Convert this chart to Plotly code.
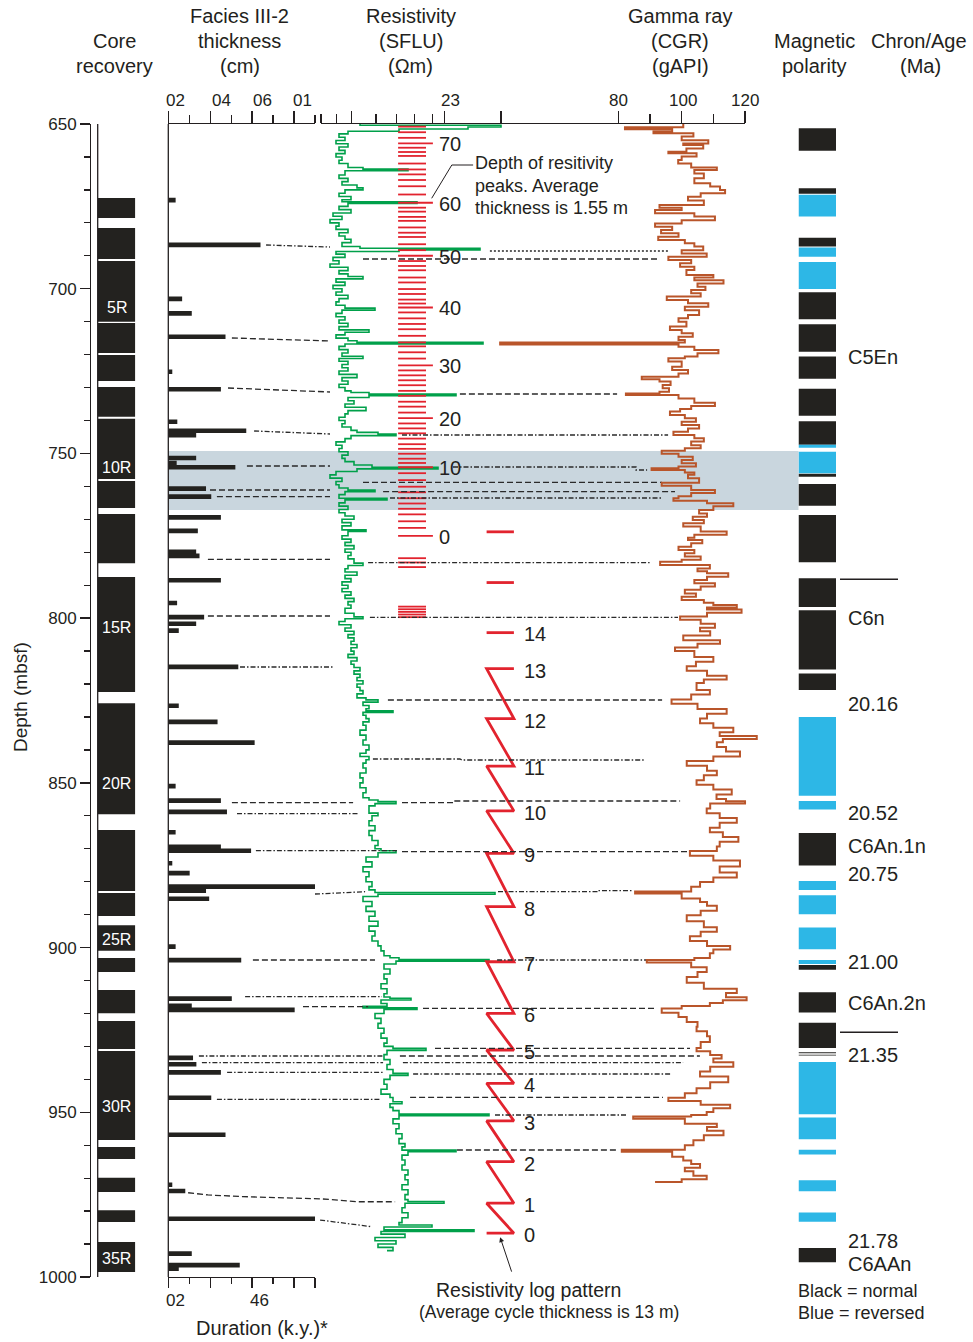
import plotly.graph_objects as go

W, H = 973, 1342
TXT = "#231f20"
BLACK = "#23221f"
BLUE = "#2db7e6"
GREEN = "#00a04a"
BROWN = "#b9552a"
RED = "#e2232e"
SHADE = "#c9d6de"
FONT = "Liberation Sans, Arial, Helvetica, sans-serif"

# ---------------- data ----------------
core_top = [672.5, 681.6, 691.6, 710.4, 720.1, 729.8, 739.5, 758.4, 768.4, 787.5, 825.8,
            864.3, 883.4, 893.2, 903.2, 912.9, 922.3, 931.4, 960.5, 969.9, 979.7, 989.4]
core_bot = [678.5, 691.0, 710.0, 719.5, 728.0, 738.9, 757.8, 766.6, 783.3, 822.4, 859.5,
            882.8, 890.4, 901.0, 907.4, 919.9, 930.8, 958.4, 964.2, 974.2, 983.3, 998.5]
core_names = ["5R", "10R", "15R", "20R", "25R", "30R", "35R"]
core_name_depth = [705.7, 754.3, 802.8, 850.3, 897.4, 948.1, 994.5]

facies_depth = [673.1, 686.7, 703.1, 707.5, 714.6, 725.2, 730.5, 740.4, 743.1, 744.5,
                751.4, 752.9, 754.2, 760.7, 763.1, 769.4, 773.5, 779.9, 781.1, 788.5,
                795.4, 799.7, 801.7, 803.8, 814.8, 826.6, 831.5, 837.8, 851.0, 855.4,
                858.8, 865.0, 869.4, 870.6, 874.4, 877.4, 881.5, 882.7, 885.2, 899.7,
                903.8, 915.5, 917.7, 918.9, 933.5, 935.4, 937.9, 945.6, 956.8, 972.0,
                973.9, 982.3, 992.9, 996.4, 997.5]
facies_cm = [0.35, 4.4, 0.66, 1.12, 2.73, 0.19, 2.51, 0.43, 3.72, 1.33,
             1.33, 0.4, 3.2, 1.8, 2.05, 2.51, 1.41, 1.33, 1.49, 2.51,
             0.42, 1.71, 1.33, 0.5, 3.34, 0.5, 2.35, 4.12, 0.35, 2.51,
             2.8, 0.35, 2.51, 3.95, 0.19, 1.02, 7.0, 1.8, 1.95, 0.35,
             3.48, 3.03, 1.12, 6.03, 1.18, 1.34, 2.51, 2.05, 2.73, 0.19,
             0.81, 7.0, 1.12, 3.41, 0.5]

res_log = [
    (650.0, 1.3), (650.4, 6.0), (650.9, 4.9), (651.5, 2.6), (652.2, 0.9), (653.0, 0.6),
    (654.0, 0.8), (655.0, 0.5), (656.0, 0.9), (657.0, 0.6), (658.0, 0.8), (659.0, 0.5),
    (660.0, 0.7), (661.0, 0.6), (662.0, 0.9), (663.2, 1.4), (663.7, 2.9), (664.2, 0.8),
    (665.5, 0.6), (666.5, 0.9), (667.5, 0.7), (668.5, 1.2), (669.4, 1.4), (670.0, 0.8),
    (671.0, 0.6), (672.0, 1.0), (673.0, 0.7), (673.6, 3.2), (674.1, 0.9), (675.0, 0.6),
    (676.0, 1.0), (677.0, 0.4), (678.0, 0.7), (679.0, 0.3), (680.0, 0.6), (681.0, 0.5),
    (682.0, 0.9), (683.0, 0.6), (684.0, 0.8), (685.0, 1.0), (686.0, 0.7), (687.2, 1.3),
    (687.7, 5.3), (688.2, 2.6), (688.7, 0.5), (689.5, 0.8), (690.5, 0.4), (691.5, 0.6),
    (692.5, 0.3), (693.5, 0.9), (694.5, 0.6), (695.5, 0.9), (696.3, 1.4), (697.0, 0.5),
    (698.0, 0.8), (699.0, 0.4), (700.0, 0.7), (701.0, 0.5), (702.0, 0.9), (703.0, 0.6),
    (704.0, 0.5), (705.0, 0.8), (705.9, 1.8), (706.5, 0.7), (707.5, 0.5), (708.5, 0.8),
    (709.5, 0.6), (710.5, 0.9), (711.5, 0.6), (712.5, 1.6), (713.2, 0.8), (714.0, 0.5),
    (715.0, 0.9), (715.8, 1.2), (716.3, 5.4), (716.8, 0.8), (717.5, 0.6), (718.5, 0.9),
    (719.5, 0.7), (720.5, 1.4), (721.2, 0.6), (722.0, 0.9), (723.0, 0.7), (724.0, 0.9),
    (725.0, 0.6), (726.0, 1.2), (727.0, 0.7), (728.0, 0.9), (729.0, 0.6), (730.0, 0.8),
    (731.0, 1.0), (731.5, 1.6), (732.0, 4.5), (732.5, 1.6), (733.0, 0.9), (734.0, 1.1),
    (735.0, 0.8), (736.0, 1.5), (737.0, 0.9), (738.0, 0.8), (739.0, 0.6), (740.0, 0.8),
    (741.0, 0.7), (742.0, 1.0), (743.0, 1.2), (743.6, 1.9), (744.1, 2.5), (744.6, 1.0),
    (745.5, 0.8), (746.5, 0.5), (747.5, 0.7), (748.5, 0.6), (749.5, 0.9), (750.5, 0.7),
    (751.5, 0.8), (752.5, 1.1), (753.5, 1.7), (754.2, 3.9), (754.7, 1.2), (755.5, 0.5),
    (756.5, 0.3), (757.5, 0.7), (758.5, 0.5), (759.5, 0.6), (760.5, 0.9), (761.1, 1.8),
    (761.6, 0.8), (762.5, 0.6), (763.6, 2.2), (764.1, 0.8), (765.0, 0.6), (766.0, 0.9),
    (767.0, 0.6), (768.0, 0.8), (769.0, 1.1), (770.0, 0.7), (771.0, 1.0), (772.0, 0.7),
    (773.2, 1.5), (773.7, 0.9), (775.0, 0.7), (776.0, 1.0), (777.0, 0.8), (778.0, 1.1),
    (779.0, 0.8), (780.0, 1.0), (781.0, 0.9), (782.0, 1.1), (783.3, 1.4), (784.0, 0.9),
    (785.0, 0.8), (786.0, 1.2), (787.0, 0.8), (788.0, 1.0), (789.0, 0.7), (790.0, 0.9),
    (791.0, 0.7), (792.0, 1.0), (793.0, 0.8), (794.0, 1.1), (795.0, 0.9), (796.0, 1.0),
    (797.0, 0.8), (798.5, 1.1), (799.6, 1.4), (800.2, 0.8), (801.0, 0.6), (802.0, 1.0),
    (803.0, 0.8), (804.0, 1.1), (805.0, 0.9), (806.0, 1.1), (807.0, 1.0), (808.0, 1.2),
    (809.0, 1.0), (810.0, 1.1), (811.0, 0.9), (812.0, 1.2), (813.0, 1.0), (814.0, 1.1),
    (815.0, 1.3), (816.0, 1.1), (817.0, 1.3), (818.0, 1.2), (819.0, 1.4), (820.0, 1.2),
    (821.0, 1.3), (822.0, 1.4), (823.0, 1.2), (824.2, 1.5), (824.8, 1.9), (825.5, 1.4),
    (826.5, 1.6), (827.5, 1.5), (828.1, 2.4), (828.6, 1.4), (829.5, 1.5), (830.5, 1.6),
    (831.5, 1.4), (832.5, 1.5), (834.0, 1.3), (835.5, 1.5), (837.0, 1.4), (838.5, 1.6),
    (840.0, 1.5), (841.0, 1.3), (842.0, 1.6), (843.0, 1.5), (844.0, 1.4), (845.5, 1.5),
    (847.0, 1.3), (848.5, 1.4), (850.0, 1.3), (851.5, 1.5), (853.0, 1.4), (854.5, 1.6),
    (855.2, 1.9), (855.7, 2.5), (856.3, 1.8), (857.0, 1.6), (859.2, 1.9), (860.0, 1.7),
    (861.5, 1.6), (863.0, 1.8), (864.5, 1.6), (866.0, 1.7), (867.5, 1.9), (869.0, 1.8),
    (870.0, 2.0), (870.6, 2.5), (871.2, 1.9), (872.5, 1.5), (874.0, 1.7), (875.5, 1.4),
    (877.0, 1.6), (878.5, 1.5), (880.0, 1.7), (881.5, 1.6), (882.5, 1.8), (883.3, 5.8),
    (883.8, 1.9), (884.5, 1.4), (886.0, 1.7), (887.5, 1.5), (889.0, 1.8), (890.5, 1.6),
    (892.0, 1.9), (893.5, 1.6), (895.0, 1.8), (896.5, 1.7), (898.0, 1.9), (899.5, 2.0),
    (901.0, 2.1), (902.5, 2.3), (903.1, 2.6), (903.6, 5.6), (904.1, 2.5), (905.0, 2.1),
    (906.5, 2.3), (908.0, 2.1), (909.5, 2.2), (911.0, 2.0), (912.5, 2.2), (914.0, 2.1),
    (915.0, 2.3), (915.4, 3.0), (915.9, 2.0), (917.0, 2.2), (917.8, 1.4), (918.3, 3.2),
    (918.8, 2.1), (920.0, 1.8), (921.5, 2.0), (923.0, 1.9), (924.5, 2.1), (926.0, 2.0),
    (927.5, 2.2), (929.0, 2.1), (930.0, 2.4), (930.6, 3.5), (931.2, 2.2), (932.5, 2.1),
    (934.0, 2.3), (935.5, 2.2), (937.0, 2.4), (938.2, 2.9), (938.8, 2.3), (940.0, 2.1),
    (941.5, 2.2), (943.0, 2.0), (944.5, 2.3), (945.5, 2.4), (946.8, 2.7), (947.4, 2.3),
    (948.5, 2.4), (949.5, 2.6), (950.5, 5.6), (951.0, 2.6), (952.0, 2.4), (953.5, 2.6),
    (955.0, 2.5), (956.5, 2.7), (958.0, 2.6), (959.5, 2.8), (960.5, 2.7), (961.5, 4.5),
    (962.0, 2.9), (963.0, 2.7), (964.5, 2.8), (966.0, 2.7), (967.5, 2.9), (969.0, 2.8),
    (970.5, 2.9), (972.0, 2.7), (973.5, 2.9), (975.0, 2.8), (976.5, 2.9), (977.1, 4.1),
    (977.6, 2.8), (979.0, 2.7), (980.5, 2.9), (982.0, 2.7), (983.5, 2.6), (984.2, 3.7),
    (984.8, 2.1), (985.7, 5.1), (986.2, 2.0), (987.0, 2.8), (988.0, 1.8), (989.0, 2.5),
    (990.0, 1.9), (991.0, 2.4), (992.0, 2.2),
]

# depth of resistivity peaks, numbered 0 .. 73
peak_depth = [775.0, 770.6, 768.5, 766.8, 765.2, 763.6, 761.8, 760.1, 758.1, 756.0,
              754.2, 752.9, 751.6, 750.1, 748.6, 747.2, 745.5, 743.9, 742.4, 740.9,
              739.3, 737.6, 735.8, 734.3, 732.5, 731.0, 729.3, 727.8, 726.3, 724.8,
              723.3, 721.2, 719.3, 717.5, 716.3, 714.3, 712.3, 710.7, 709.0, 707.2,
              705.7, 704.5, 703.3, 701.6, 700.1, 698.1, 696.6, 694.4, 693.1, 691.6,
              690.0, 688.3, 686.5, 684.3, 683.0, 681.4, 679.4, 678.2, 676.6, 675.4,
              673.9, 671.4, 668.9, 667.0, 665.3, 663.8, 662.0, 659.7, 658.5, 657.2,
              655.9, 654.2, 652.5, 650.8]
peak_extra = [772.6, 781.8, 783.1, 784.5, 796.5, 797.3, 798.1, 798.9, 799.7]

# resistivity log pattern cycles 0 .. 13 (top of each cycle)
cycle_depth = [986.7, 977.6, 965.0, 952.6, 941.2, 931.1, 920.0, 904.3, 887.6, 871.4,
               858.5, 844.9, 830.5, 815.3]
cycle_extra = [804.4, 789.2, 773.8]
cycle_extra_names = ["14", "", ""]

gamma_log = [
    (650.0, 100.5), (651.0, 82.1), (651.6, 97.0), (652.3, 91.1), (652.8, 103.7), (653.8, 100.0),
    (654.9, 108.4), (655.9, 100.5), (656.4, 106.8), (657.4, 101.5), (658.4, 95.8), (658.9, 104.7),
    (659.9, 100.0), (660.9, 98.9), (662.0, 103.0), (663.2, 111.1), (664.0, 104.0), (665.0, 107.0),
    (666.5, 104.0), (668.0, 109.0), (669.0, 112.1), (670.0, 113.7), (671.0, 106.0), (672.1, 102.0),
    (673.2, 107.0), (674.6, 93.0), (675.4, 100.0), (676.1, 91.6), (677.1, 104.0), (678.1, 110.5),
    (679.2, 100.0), (680.2, 91.6), (681.2, 97.0), (682.2, 93.5), (683.2, 99.0), (684.2, 92.6),
    (685.2, 101.0), (686.2, 104.0), (687.2, 106.8), (688.3, 100.0), (689.3, 107.9), (690.3, 95.8),
    (691.3, 103.0), (692.3, 99.5), (693.3, 104.0), (694.3, 101.5), (695.8, 110.0), (696.6, 104.0),
    (697.4, 113.2), (698.4, 105.0), (699.4, 107.5), (700.4, 103.0), (701.4, 106.0), (702.4, 95.3),
    (703.4, 102.0), (704.4, 108.4), (705.5, 101.0), (706.5, 105.5), (708.0, 102.0), (709.0, 99.0),
    (710.0, 101.5), (711.5, 96.3), (712.5, 100.0), (713.5, 103.5), (714.6, 99.0), (715.6, 101.0),
    (716.3, 42.7), (716.9, 99.0), (717.6, 104.0), (718.6, 111.6), (719.6, 105.0), (720.6, 101.0),
    (721.1, 95.8), (722.1, 100.0), (723.7, 97.0), (724.7, 102.0), (725.7, 99.0), (726.7, 87.4),
    (727.5, 93.0), (728.2, 96.5), (729.2, 94.0), (730.2, 96.0), (731.3, 93.0), (731.8, 82.4),
    (732.3, 99.0), (733.3, 104.0), (734.6, 110.5), (735.6, 103.0), (736.5, 99.5), (737.3, 96.3),
    (738.3, 101.0), (739.3, 104.5), (740.4, 100.0), (741.4, 105.5), (742.4, 102.0), (743.4, 97.4),
    (744.4, 104.0), (745.4, 107.0), (746.4, 103.0), (747.5, 106.0), (748.4, 101.0), (749.2, 93.7),
    (750.1, 99.0), (751.0, 103.5), (752.0, 100.0), (753.0, 104.5), (754.0, 99.0), (754.5, 90.5),
    (755.0, 101.0), (755.8, 104.0), (756.5, 102.0), (757.5, 105.5), (758.9, 93.7), (759.8, 103.0),
    (761.1, 110.5), (762.0, 103.0), (763.0, 99.0), (763.6, 97.4), (764.4, 108.0), (765.1, 116.3),
    (766.0, 110.0), (767.2, 105.5), (768.2, 108.0), (769.2, 103.5), (770.2, 107.0), (771.2, 100.5),
    (772.2, 106.0), (773.7, 114.2), (774.7, 104.0), (775.6, 102.0), (776.3, 106.5), (777.3, 103.0),
    (778.3, 99.0), (779.3, 104.0), (780.3, 101.0), (781.3, 106.0), (782.3, 100.0), (782.9, 93.2),
    (783.9, 108.9), (784.9, 105.0), (785.8, 108.0), (786.4, 114.7), (787.4, 108.0), (788.4, 104.0),
    (789.4, 110.5), (790.4, 106.0), (791.4, 101.0), (792.5, 104.5), (793.5, 100.0), (794.5, 107.0),
    (795.3, 110.0), (796.0, 117.4), (796.8, 108.0), (797.4, 118.9), (798.4, 108.0), (799.5, 99.5),
    (800.5, 106.0), (801.7, 110.5), (802.9, 105.8), (804.0, 109.0), (805.3, 100.5), (806.7, 112.1),
    (807.8, 105.0), (808.9, 97.9), (810.0, 104.0), (811.8, 110.0), (813.2, 104.5), (814.6, 101.6),
    (816.0, 108.0), (817.5, 114.2), (818.6, 107.0), (819.7, 104.7), (821.8, 108.9), (823.2, 103.0),
    (824.7, 96.8), (826.0, 105.0), (827.6, 114.2), (829.0, 108.0), (830.5, 105.8), (831.9, 110.0),
    (833.3, 116.3), (834.6, 112.0), (835.8, 123.7), (836.7, 113.0), (837.7, 111.1), (839.1, 114.0),
    (840.5, 118.4), (842.0, 110.0), (843.4, 101.6), (844.8, 108.0), (846.3, 111.1), (847.7, 107.0),
    (849.2, 104.7), (850.6, 110.0), (852.0, 115.8), (853.5, 111.0), (854.9, 114.0), (855.6, 120.0),
    (856.3, 109.0), (857.8, 107.9), (859.2, 112.0), (860.7, 117.4), (862.1, 112.0), (863.6, 108.9),
    (865.0, 113.0), (866.4, 117.9), (867.9, 112.0), (869.3, 111.1), (870.7, 102.6), (872.1, 110.0),
    (873.6, 118.4), (875.4, 112.0), (877.2, 117.4), (878.7, 110.0), (880.1, 105.8), (881.5, 103.0),
    (883.0, 85.3), (883.6, 100.0), (885.1, 105.8), (886.2, 108.0), (887.3, 111.1), (888.8, 106.0),
    (890.2, 101.6), (892.0, 107.0), (893.8, 111.1), (895.2, 106.0), (896.6, 102.6), (898.0, 108.0),
    (899.5, 115.3), (900.6, 110.0), (901.7, 108.9), (903.2, 104.0), (903.8, 89.0), (904.5, 103.0),
    (906.0, 107.9), (907.4, 105.0), (908.9, 101.6), (910.7, 107.0), (912.5, 117.4), (913.8, 114.0),
    (915.1, 120.5), (916.0, 113.0), (916.8, 108.9), (917.7, 100.0), (918.5, 93.7), (919.8, 99.0),
    (921.1, 101.6), (922.6, 105.0), (924.0, 104.7), (925.4, 108.0), (926.9, 108.9), (928.7, 106.0),
    (930.5, 104.7), (931.5, 109.0), (932.6, 112.6), (933.7, 110.0), (934.8, 116.3), (936.2, 109.0),
    (937.6, 105.8), (939.1, 114.7), (940.9, 109.0), (942.7, 104.7), (944.2, 101.0), (945.6, 95.8),
    (946.6, 106.0), (947.7, 115.3), (948.8, 110.0), (949.9, 107.9), (950.8, 103.0), (951.3, 84.7),
    (952.0, 101.0), (953.5, 111.1), (954.5, 108.0), (955.6, 113.2), (957.0, 107.0), (958.5, 103.7),
    (960.0, 101.0), (961.4, 81.1), (962.0, 97.0), (963.5, 100.5), (964.6, 103.0), (965.7, 105.8),
    (966.8, 101.0), (967.9, 103.7), (969.3, 107.9), (970.3, 100.0), (971.2, 91.6),
]

# magnetic polarity: top, bottom, n = normal (black), r = reversed (blue)
pol_top = [651.3, 669.5, 671.5, 684.5, 687.5, 691.9, 701.1, 710.8, 720.6, 730.4, 740.2, 747.4,
           749.5, 756.2, 759.3, 768.7, 787.9, 797.6, 816.8, 830.0, 855.5, 865.2, 879.8, 884.1,
           893.9, 903.8, 905.3, 913.6, 922.8, 931.8, 932.5, 934.7, 951.6, 961.4, 970.6, 980.4,
           991.2]
pol_bot = [658.1, 671.2, 678.1, 687.2, 690.3, 700.1, 709.3, 719.1, 727.3, 738.6, 747.4, 748.3,
           756.0, 757.1, 765.9, 783.0, 796.6, 815.6, 821.8, 853.9, 858.1, 875.1, 882.5, 889.9,
           900.5, 905.0, 906.7, 919.7, 930.5, 932.1, 932.8, 950.6, 958.2, 962.8, 974.0, 983.2,
           995.5]
pol_type = ["n", "n", "r", "n", "r", "r", "n", "n", "n", "n", "n", "r",
            "r", "n", "n", "n", "n", "n", "n", "r", "r", "n", "r", "r",
            "r", "r", "n", "n", "n", "n", "n", "r", "r", "r", "r", "r",
            "n"]

chron_text = ["C5En", "C6n", "20.16", "20.52", "C6An.1n", "20.75", "21.00", "C6An.2n",
              "21.35", "21.78", "C6AAn"]
chron_depth = [720.7, 800.0, 826.1, 859.2, 869.2, 877.7, 904.4, 916.8, 932.6, 989.1, 996.1]
chron_boundary = [788.2, 925.7]

shaded_interval = (749.3, 767.2)

# correlation lines: (style, [(resistivity-track units, depth), ...])
connectors = [
    ("dashdot", [(-1.83, 686.73), (0.30, 687.34)]),
    ("dot", [(5.63, 688.55), (11.57, 688.55)]),
    ("dash", [(1.4, 690.98), (11.3, 690.98)]),
    ("dash", [(-2.97, 714.96), (0.30, 715.87)]),
    ("dash", [(-3.1, 730.14), (0.30, 731.35)]),
    ("dash", [(4.63, 731.96), (9.87, 731.96)]),
    ("dashdot", [(-2.23, 743.19), (0.30, 744.10)]),
    ("dashdot", [(2.7, 744.41), (11.57, 744.41)]),
    ("dash", [(-2.47, 753.82), (0.30, 753.82)]),
    ("dashdot", [(4.4, 754.12), (10.5, 754.12), (10.5, 755.03), (10.87, 755.03)]),
    ("dash", [(1.4, 758.76), (11.37, 758.76)]),
    ("dash", [(-3.7, 761.10), (0.30, 761.10)]),
    ("dash", [(2.07, 761.62), (11.8, 761.62)]),
    ("dash", [(-3.47, 763.13), (0.30, 763.13)]),
    ("dashdot", [(2.3, 763.53), (11.37, 763.53)]),
    ("dash", [(-3.77, 782.14), (0.30, 782.14)]),
    ("dashdot", [(1.57, 783.17), (10.97, 783.17)]),
    ("dash", [(-3.77, 799.35), (0.30, 799.35)]),
    ("dashdot", [(1.63, 799.74), (11.9, 799.74)]),
    ("dashdot", [(-2.7, 814.83), (0.4, 814.83)]),
    ("dash", [(2.23, 824.85), (11.37, 824.85)]),
    ("dashdot", [(1.73, 842.76), (4.63, 842.76), (4.7, 843.06), (10.8, 843.06)]),
    ("dash", [(-2.97, 856.02), (1.07, 856.02)]),
    ("dash", [(2.7, 856.02), (4.4, 856.02), (4.4, 855.51), (11.97, 855.51)]),
    ("dashdot", [(-2.8, 859.36), (1.23, 859.36)]),
    ("dashdot", [(-2.17, 870.59), (2.53, 870.59)]),
    ("dash", [(2.7, 870.90), (12.3, 870.90)]),
    ("dashdot", [(-0.2, 883.74), (1.47, 883.04)]),
    ("dashdot", [(5.9, 883.04), (9.23, 883.04), (9.23, 882.73), (10.37, 882.73)]),
    ("dash", [(-2.27, 903.77), (1.8, 903.77)]),
    ("dashdot", [(5.87, 903.77), (10.87, 903.77)]),
    ("dashdot", [(-2.53, 914.91), (2.03, 914.91)]),
    ("dash", [(-0.6, 917.95), (1.57, 917.95)]),
    ("dash", [(3.4, 918.43), (11.2, 918.43)]),
    ("dash", [(3.8, 930.58), (12.3, 930.58)]),
    ("dashdot", [(-4.07, 932.91), (2.07, 932.91)]),
    ("dash", [(2.63, 932.91), (12.63, 932.91)]),
    ("dashdot", [(-3.97, 934.95), (2.07, 934.95)]),
    ("dashdot", [(2.73, 934.95), (12.07, 934.95)]),
    ("dashdot", [(-3.13, 937.86), (2.07, 937.86)]),
    ("dashdot", [(3.07, 938.38), (11.7, 938.38)]),
    ("dashdot", [(-3.47, 946.06), (1.97, 946.06)]),
    ("dash", [(2.97, 945.45), (11.4, 945.45)]),
    ("dashdot", [(5.8, 950.83), (10.23, 950.83)]),
    ("dash", [(4.53, 961.45), (9.9, 961.45)]),
    ("dash", [(-4.43, 974.42), (-3.77, 975.1), (-2.6, 975.6), (-1.3, 975.9), (0.03, 976.3),
              (1.23, 977.15), (2.47, 977.15)]),
    ("dashdot", [(-0.03, 982.71), (0.6, 983.5), (1.7, 984.74)]),
]

# ---------------- geometry helpers ----------------
def px(x):
    return x / W


def py(y):
    return 1 - y / H


PEAK_X0, PEAK_X1, PEAK_X1_LONG = 2.57, 3.5, 3.73
ZIG_L, ZIG_R = 5.52, 6.43

fig = go.Figure()

# core recovery
fig.add_trace(go.Bar(
    y=[(a + b) / 2 for a, b in zip(core_top, core_bot)],
    x=[1] * len(core_top), base=0,
    width=[b - a for a, b in zip(core_top, core_bot)],
    orientation="h", marker=dict(color=BLACK, line=dict(width=0)),
    xaxis="x", yaxis="y", hoverinfo="skip"))

# facies thickness bars
fig.add_trace(go.Bar(
    y=facies_depth, x=facies_cm, base=0, width=[1.4] * len(facies_depth),
    orientation="h", marker=dict(color=BLACK, line=dict(width=0)),
    xaxis="x2", yaxis="y", hoverinfo="skip"))
fig.add_trace(go.Scatter(x=[None], y=[None], xaxis="x3", yaxis="y", hoverinfo="skip"))

# correlation lines
dash_map = {"dash": "6px,3px", "dashdot": "5px,2px,1.5px,2px", "dot": "2px,2px"}
for style in ["dash", "dashdot", "dot"]:
    xs, ys = [], []
    for st, pts in connectors:
        if st != style:
            continue
        for u, d in pts:
            xs.append(u)
            ys.append(d)
        xs.append(None)
        ys.append(None)
    fig.add_trace(go.Scatter(x=xs, y=ys, mode="lines", xaxis="x6", yaxis="y",
                             line=dict(color="#2a2a2a", width=1.3, dash=dash_map[style]),
                             hoverinfo="skip"))

# resistivity log
fig.add_trace(go.Scatter(
    x=[v for _, v in res_log], y=[d for d, _ in res_log], mode="lines",
    line=dict(color=GREEN, width=1.6, shape="vh"), xaxis="x4", yaxis="y", hoverinfo="skip"))

# resistivity peak depths
xs, ys = [], []
for n, d in enumerate(peak_depth):
    xs += [PEAK_X0, PEAK_X1_LONG if n % 10 == 0 else PEAK_X1, None]
    ys += [d, d, None]
for d in peak_extra:
    xs += [PEAK_X0, PEAK_X1, None]
    ys += [d, d, None]
fig.add_trace(go.Scatter(x=xs, y=ys, mode="lines", line=dict(color=RED, width=1.8),
                         xaxis="x4", yaxis="y", hoverinfo="skip"))

# resistivity log pattern (sawtooth)
zx, zy = [], []
for d in reversed(cycle_depth):
    zx += [ZIG_R, ZIG_L]
    zy += [d, d]
fig.add_trace(go.Scatter(x=zx, y=zy, mode="lines", line=dict(color=RED, width=2.8),
                         xaxis="x4", yaxis="y", hoverinfo="skip"))
xs, ys = [], []
for d in cycle_extra:
    xs += [ZIG_L, ZIG_R, None]
    ys += [d, d, None]
fig.add_trace(go.Scatter(x=xs, y=ys, mode="lines", line=dict(color=RED, width=2.8),
                         xaxis="x4", yaxis="y", hoverinfo="skip"))

# leader line for peak note
fig.add_trace(go.Scatter(x=[5.07, 4.36, 3.69], y=[662.45, 662.45, 672.55], mode="lines",
                         line=dict(color=TXT, width=1), xaxis="x4", yaxis="y",
                         hoverinfo="skip"))
fig.add_trace(go.Scatter(x=[None], y=[None], xaxis="x5", yaxis="y", hoverinfo="skip"))

# gamma ray
fig.add_trace(go.Scatter(
    x=[g for _, g in gamma_log], y=[d for d, _ in gamma_log], mode="lines",
    line=dict(color=BROWN, width=2.0, shape="vh"), xaxis="x7", yaxis="y", hoverinfo="skip"))

# polarity
for kind, col in [("n", BLACK), ("r", BLUE)]:
    idx = [i for i, t in enumerate(pol_type) if t == kind]
    fig.add_trace(go.Bar(
        y=[(pol_top[i] + pol_bot[i]) / 2 for i in idx], x=[1] * len(idx), base=0,
        width=[pol_bot[i] - pol_top[i] for i in idx], orientation="h",
        marker=dict(color=col, line=dict(width=0)), xaxis="x8", yaxis="y",
        hoverinfo="skip"))

# ---------------- axes ----------------
line_kw = dict(showline=True, linecolor=TXT, linewidth=1.3, ticks="outside",
               tickcolor=TXT, tickwidth=1.3, showgrid=False, zeroline=False,
               showticklabels=False, fixedrange=True, automargin=False)
hid = dict(visible=False, anchor="y", fixedrange=True, automargin=False)

layout = dict(
    width=W, height=H, autosize=False,
    margin=dict(l=0, r=0, t=0, b=0, pad=0, autoexpand=False),
    paper_bgcolor="white", plot_bgcolor="rgba(0,0,0,0)",
    showlegend=False, barmode="overlay",
    font=dict(family=FONT, color=TXT, size=17),
    yaxis=dict(domain=[65 / H, 1218 / H], range=[1000, 650], anchor="free",
               position=px(90), side="left", showline=True, linecolor=TXT,
               linewidth=1.3, ticks="outside", tickmode="array",
               tickvals=list(range(650, 1001, 50)), ticklen=10, tickwidth=1.3,
               tickcolor=TXT, tickfont=dict(size=17, color=TXT), showgrid=False,
               zeroline=False, fixedrange=True, automargin=False,
               minor=dict(tickmode="linear", tick0=650, dtick=10, ticklen=6.5,
                          ticks="outside", tickcolor=TXT, tickwidth=1.3, showgrid=False)),
    xaxis=dict(domain=[px(98), px(135.3)], range=[0, 1], **hid),
    xaxis2=dict(domain=[px(168.3), px(315)], range=[0, 7], anchor="y", side="top",
                tickmode="array", tickvals=[0, 2, 4, 6], ticklen=12,
                minor=dict(tickmode="array", tickvals=[1, 3, 5, 7], ticklen=8,
                           ticks="outside", tickcolor=TXT, tickwidth=1.3),
                **line_kw),
    xaxis3=dict(overlaying="x2", range=[0, 7], anchor="y", side="bottom",
                tickmode="array", tickvals=[0, 2, 4, 6, 7], ticklen=10,
                minor=dict(tickmode="array", tickvals=[1, 3, 5], ticklen=6,
                           ticks="outside", tickcolor=TXT, tickwidth=1.3),
                **line_kw),
    xaxis4=dict(domain=[px(321), px(745)], range=[0, 424 / 30], anchor="y", side="top",
                tickmode="array", tickvals=[1.023, 4.11, 6.0], ticklen=12,
                minor=dict(tickmode="array", tickvals=[0, 0.523, 1.833, 2.523, 3.11, 3.71],
                           ticklen=9, ticks="outside", tickcolor=TXT, tickwidth=1.3),
                **line_kw),
    xaxis5=dict(overlaying="x4", range=[-13.84, 120.0], anchor="y", side="top",
                tickmode="array", tickvals=[80, 100, 120], ticklen=12,
                minor=dict(tickmode="array", tickvals=[90, 110], ticklen=9,
                           ticks="outside", tickcolor=TXT, tickwidth=1.3),
                **{**line_kw, "showline": False}),
    xaxis6=dict(domain=[px(168), px(770)], range=[-5.1, 449 / 30], **hid),
    xaxis7=dict(overlaying="x6", range=[-62.14, 127.88], **hid),
    xaxis8=dict(domain=[px(798.5), px(836)], range=[0, 1], **hid),
)
fig.update_layout(**layout)

# ---------------- shapes ----------------
shapes = [
    dict(type="rect", xref="paper", yref="y", x0=px(168.3), x1=px(798.5),
         y0=shaded_interval[0], y1=shaded_interval[1], fillcolor=SHADE,
         line=dict(width=0), layer="below"),
    dict(type="line", xref="paper", yref="y", x0=px(97.7), x1=px(97.7), y0=650, y1=1000,
         line=dict(color=TXT, width=1.3)),
    dict(type="line", xref="paper", yref="y", x0=px(168.3), x1=px(168.3), y0=650, y1=1000,
         line=dict(color=TXT, width=1.3)),
]
for d in chron_boundary:
    shapes.append(dict(type="line", xref="paper", yref="y", x0=px(840), x1=px(898),
                       y0=d, y1=d, line=dict(color=TXT, width=1.3)))
fig.update_layout(shapes=shapes)

# ---------------- text ----------------
anns = []


def A(text, x, y, size=20, xanchor="center", xref="paper", yref="paper", color=TXT, **kw):
    if xref == "paper":
        x = px(x)
    if yref == "paper":
        y = py(y)
    anns.append(dict(text=text, x=x, y=y, xref=xref, yref=yref, xanchor=xanchor,
                     yanchor="middle", showarrow=False,
                     font=dict(size=size, color=color, family=FONT), **kw))


for t, x, y in [("Core", 114, 41), ("recovery", 114, 66),
                ("Facies III-2", 239.5, 16), ("thickness", 239.5, 41), ("(cm)", 239.5, 66),
                ("Resistivity", 410.5, 16), ("(SFLU)", 410.5, 41), ("(Ωm)", 410.5, 66),
                ("Gamma ray", 680, 16), ("(CGR)", 680, 41), ("(gAPI)", 680, 66),
                ("Magnetic", 814, 41), ("polarity", 814, 66),
                ("Chron/Age", 919, 41), ("(Ma)", 920, 66)]:
    A(t, x, y, 20)

for t, x in [("02", 175.5), ("04", 221.7), ("06", 262), ("01", 302.7), ("23", 450.8),
             ("80", 618), ("100", 682.5), ("120", 745)]:
    A(t, x, 100.5, 17)
for t, x in [("02", 175.8), ("46", 259.2)]:
    A(t, x, 1300.5, 17)
A("Duration (k.y.)*", 261.5, 1328, 20)
A("Depth (mbsf)", 20, 697, 19, textangle=-90)

for name, d in zip(core_names, core_name_depth):
    A(name, 0.5, d, 16, xref="x", yref="y", color="white")

for n, d in enumerate(peak_depth):
    if n % 10 == 0:
        A(str(n), 3.85, d + 0.3, 20, xanchor="left", xref="x4", yref="y")
for n, d in enumerate(cycle_depth):
    A(str(n), 6.7, d + 0.6, 20, xanchor="left", xref="x4", yref="y")
for t, d in zip(cycle_extra_names, cycle_extra):
    if t:
        A(t, 6.7, d + 0.4, 20, xanchor="left", xref="x4", yref="y")

for t, d in [("Depth of resitivity", 661.8), ("peaks. Average", 668.8),
             ("thickness is 1.55 m", 675.5)]:
    A(t, 5.08, d, 18, xanchor="left", xref="x4", yref="y")

A("Resistivity log pattern", 528, 1290, 19.5)
A("(Average cycle thickness is 13 m)", 549, 1312, 17.5)
anns.append(dict(text="", x=5.97, y=987.9, xref="x4", yref="y", showarrow=True,
                 ax=12, ay=36, arrowhead=2, arrowsize=1, arrowwidth=1, arrowcolor=TXT,
                 standoff=0))

for t, d in zip(chron_text, chron_depth):
    A(t, 845.5, d, 20, xanchor="left", yref="y")
A("Black = normal", 796, 1291, 18, xanchor="left")
A("Blue = reversed", 796, 1313, 18, xanchor="left")

fig.update_layout(annotations=anns)

fig.write_html("out.html", include_plotlyjs=True,
               config={"displayModeBar": False, "staticPlot": True},
               post_script="document.body.style.margin='0';document.body.style.overflow='hidden';")
